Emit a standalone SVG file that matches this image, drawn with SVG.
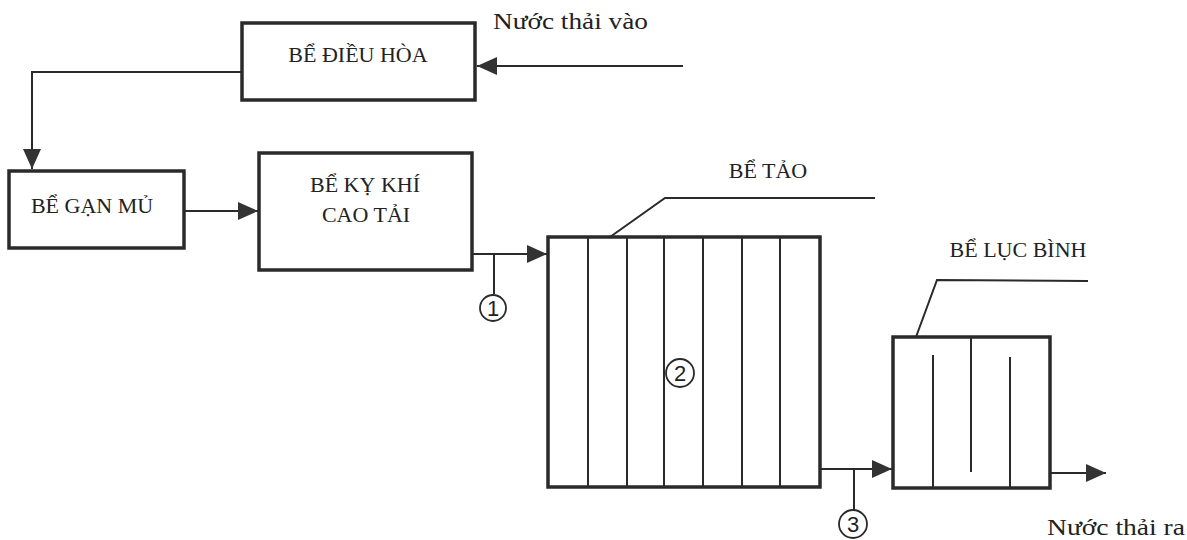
<svg xmlns="http://www.w3.org/2000/svg" width="1187" height="540" viewBox="0 0 1187 540">
<defs>
<style>
.box{fill:#fff;stroke:#2a2a2a;stroke-width:3.5}
.ln{fill:none;stroke:#2a2a2a;stroke-width:2}
.thin{fill:none;stroke:#2a2a2a;stroke-width:2}
.lbl{font-family:"Liberation Serif","Times New Roman",serif;font-size:22px;fill:#222;text-anchor:middle}
.cap{font-family:"Liberation Serif","Times New Roman",serif;font-size:24px;fill:#222}
.num{font-family:"Liberation Sans",Arial,sans-serif;font-size:22px;fill:#222;text-anchor:middle}
.circ{fill:#fff;stroke:#2a2a2a;stroke-width:1.8}
</style>
<marker id="ah" viewBox="0 0 20 18" refX="20" refY="9" markerWidth="20" markerHeight="18" markerUnits="userSpaceOnUse" orient="auto">
<path d="M0,0 L20,9 L0,18 z" fill="#333"/>
</marker>
</defs>
<rect width="1187" height="540" fill="#fff"/>

<g id="connectors">
<line class="ln" x1="683" y1="66" x2="477" y2="66" marker-end="url(#ah)"/>
<polyline class="ln" points="242,72 32,72 32,169" marker-end="url(#ah)"/>
<line class="ln" x1="184" y1="211" x2="258" y2="211" marker-end="url(#ah)"/>
<line class="ln" x1="472" y1="254" x2="547" y2="254" marker-end="url(#ah)"/>
<line class="ln" x1="494" y1="254" x2="494" y2="294"/>
<line class="ln" x1="820" y1="469" x2="892" y2="469" marker-end="url(#ah)"/>
<line class="ln" x1="854" y1="469" x2="854" y2="510"/>
<line class="ln" x1="1050" y1="473" x2="1106" y2="473" marker-end="url(#ah)"/>
<polyline class="thin" points="610,237 665,198 875,198"/>
<polyline class="thin" points="916,337 937,280 1088,281"/>
</g>

<g id="dieu-hoa">
<rect class="box" x="242" y="23" width="233" height="77"/>
<text class="lbl" x="358" y="62" font-size="23">BỂ ĐIỀU HÒA</text>
</g>

<g id="gan-mu">
<rect class="box" x="9" y="171" width="175" height="77"/>
<text class="lbl" x="92" y="213">BỂ GẠN MỦ</text>
</g>

<g id="ky-khi">
<rect class="box" x="259" y="153" width="213" height="117"/>
<text class="lbl" x="365" y="192">BỂ KỴ KHÍ</text>
<text class="lbl" x="366" y="222">CAO TẢI</text>
</g>

<g id="tao">
<rect class="box" x="548" y="237" width="272" height="250"/>
<g class="thin">
<line x1="588" y1="237" x2="588" y2="487"/>
<line x1="627" y1="237" x2="627" y2="487"/>
<line x1="664" y1="237" x2="664" y2="487"/>
<line x1="703" y1="237" x2="703" y2="487"/>
<line x1="742" y1="237" x2="742" y2="487"/>
<line x1="780" y1="237" x2="780" y2="487"/>
</g>
<text class="lbl" x="768" y="178">BỂ TẢO</text>
</g>

<g id="luc-binh">
<rect class="box" x="893" y="337" width="157" height="151"/>
<line class="thin" x1="933" y1="355" x2="933" y2="488"/>
<line class="thin" x1="971" y1="337" x2="971" y2="472"/>
<line class="thin" x1="1010" y1="357" x2="1010" y2="488"/>
<text class="lbl" x="1018" y="257" font-size="23">BỂ LỤC BÌNH</text>
</g>

<g id="marker-1">
<circle class="circ" cx="493" cy="308" r="13"/>
<text class="num" x="493" y="316">1</text>
</g>
<g id="marker-2">
<circle class="circ" cx="680" cy="373" r="14"/>
<text class="num" x="680" y="381">2</text>
</g>
<g id="marker-3">
<circle class="circ" cx="853" cy="524" r="14"/>
<text class="num" x="853" y="532">3</text>
</g>

<g id="labels">
<text class="cap" x="493" y="29" textLength="155" lengthAdjust="spacingAndGlyphs">Nước thải vào</text>
<text class="cap" x="1047" y="535" textLength="138" lengthAdjust="spacingAndGlyphs">Nước thải ra</text>
</g>
</svg>
